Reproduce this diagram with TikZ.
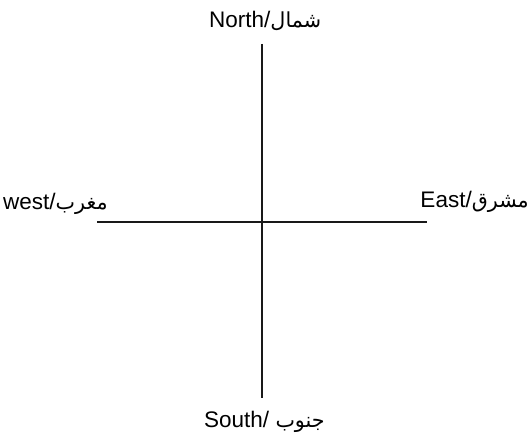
\documentclass[tikz,border=0pt]{standalone}
\usepackage{fontspec}
\setmainfont{Liberation Sans}
\newfontfamily\arabicfont[Script=Arabic,Scale=0.92]{DejaVu Sans}
\TeXXeTstate=1
\begin{document}
\begin{tikzpicture}[x=1pt,y=-1pt,
  lbl/.style={inner sep=0pt,font=\fontsize{22.5}{26}\selectfont,text=black},
  axis/.style={line width=2.2pt,black!90}]
\useasboundingbox (0,0) rectangle (531,443);
\coordinate (top) at (262,44);
\coordinate (bot) at (262,398);
\coordinate (lft) at (97,222);
\coordinate (rgt) at (427,222);
\draw[axis] (top) -- (bot);
\draw[axis] (lft) -- (rgt);
\node[lbl,anchor=base west] (north) at (209,28) {North/{\arabicfont\beginR شمال\endR}};
\node[lbl,anchor=base west] (south) at (204,428) {South/ {\arabicfont\beginR جنوب\endR}};
\node[lbl,anchor=base west] (west) at (3,210) {west/{\arabicfont\beginR مغرب\endR}};
\node[lbl,anchor=base east] (east) at (529,208) {East/{\arabicfont\beginR مشرق\endR}};
\end{tikzpicture}
\end{document}
